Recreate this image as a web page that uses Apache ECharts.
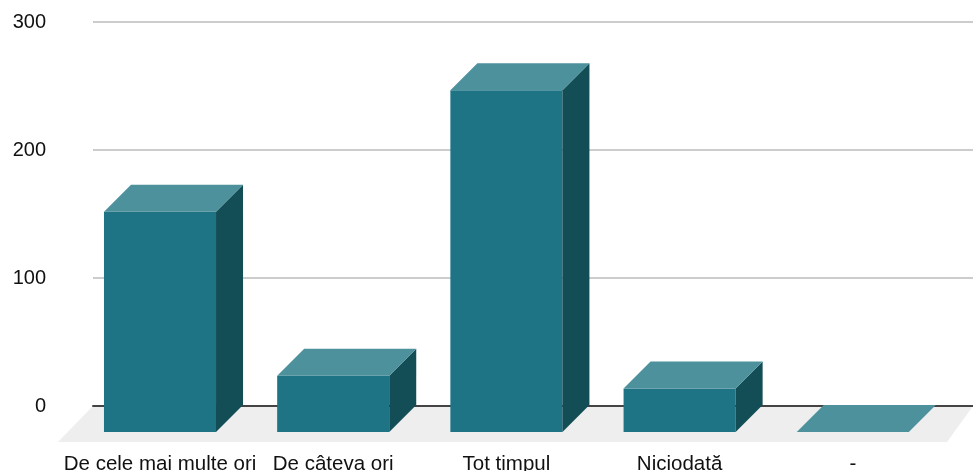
<!DOCTYPE html>
<html>
<head>
<meta charset="utf-8">
<style>
html, body { margin: 0; background: #fff; }
#chart { width: 973px; height: 471px; }
</style>
<script src="https://cdn.jsdelivr.net/npm/echarts@6/dist/echarts.min.js"></script>
</head>
<body>
<div id="chart"></div>
<script>
const categories = ['De cele mai multe ori', 'De câteva ori', 'Tot timpul', 'Niciodată', '-'];
const values = [172, 44, 267, 34, 0];
const tickStep = 100;
const tickMax = 300;

// fake 3d look: how far the back face sits from the front face, in pixels
const depthX = 27;
const depthY = 27;
const barRatio = 0.647;

const chart = echarts.init(document.getElementById('chart'));

function renderBar(params, api) {
    const base = api.coord([api.value(0), 0]);
    const top = api.coord([api.value(0), api.value(1)]);
    const w = api.size([1, 0])[0] * barRatio;
    const x0 = base[0] - w / 2;
    const x1 = base[0] + w / 2;
    const yb = base[1];
    const yt = top[1];
    return {
        type: 'group',
        children: [
            {
                type: 'polygon',
                shape: { points: [[x0, yt], [x1, yt], [x1, yb], [x0, yb]] },
                style: { fill: '#1e7485' }
            },
            {
                type: 'polygon',
                shape: { points: [[x1, yt], [x1 + depthX, yt - depthY], [x1 + depthX, yb - depthY], [x1, yb]] },
                style: { fill: '#134d55' }
            },
            {
                type: 'polygon',
                shape: { points: [[x0, yt], [x0 + depthX, yt - depthY], [x1 + depthX, yt - depthY], [x1, yt]] },
                style: { fill: '#4d919d' }
            }
        ]
    };
}

function renderFloor(params) {
    const c = params.coordSys;
    const yBack = c.y + c.height;
    const yFront = yBack + 36;
    return {
        type: 'polygon',
        shape: {
            points: [
                [c.x, yBack],
                [c.x + c.width, yBack],
                [c.x + c.width - 26, yFront],
                [c.x - 35, yFront]
            ]
        },
        style: { fill: '#eeeeee' }
    };
}

chart.setOption({
    animation: false,
    backgroundColor: '#ffffff',
    textStyle: { fontFamily: 'Liberation Sans' },
    grid: [
        // plane of the bar fronts
        { left: 73.4, width: 866, top: 48, height: 384, outerBoundsMode: 'none' },
        // back wall with the gridlines
        { left: 93, width: 880, top: 22, height: 384, outerBoundsMode: 'none' }
    ],
    xAxis: [
        {
            type: 'category',
            gridIndex: 0,
            data: categories,
            axisLine: { show: false },
            axisTick: { show: false },
            axisLabel: { interval: 0, color: '#111111', fontSize: 20.5, margin: 22 }
        },
        {
            type: 'value',
            gridIndex: 1,
            min: 0,
            max: 1,
            z: 1,
            axisLine: { show: true, lineStyle: { color: '#444444', width: 2 } },
            axisTick: { show: false },
            axisLabel: { show: false },
            splitLine: { show: false }
        }
    ],
    yAxis: [
        {
            type: 'value',
            gridIndex: 0,
            min: 0,
            max: tickMax,
            interval: tickStep,
            show: false
        },
        {
            type: 'value',
            gridIndex: 1,
            min: 0,
            max: tickMax,
            interval: tickStep,
            axisLine: { show: false },
            axisTick: { show: false },
            axisLabel: { color: '#111111', fontSize: 20, margin: 47, padding: [2, 0, 0, 0] },
            splitLine: { lineStyle: { color: '#cccccc', width: 2 } }
        }
    ],
    series: [
        {
            type: 'custom',
            xAxisIndex: 1,
            yAxisIndex: 1,
            z: 0,
            silent: true,
            renderItem: renderFloor,
            data: [[0, 0]]
        },
        {
            type: 'custom',
            xAxisIndex: 0,
            yAxisIndex: 0,
            z: 2,
            silent: true,
            clip: false,
            renderItem: renderBar,
            encode: { x: 0, y: 1 },
            data: categories.map((c, i) => [i, values[i]])
        }
    ]
});
</script>
</body>
</html>
